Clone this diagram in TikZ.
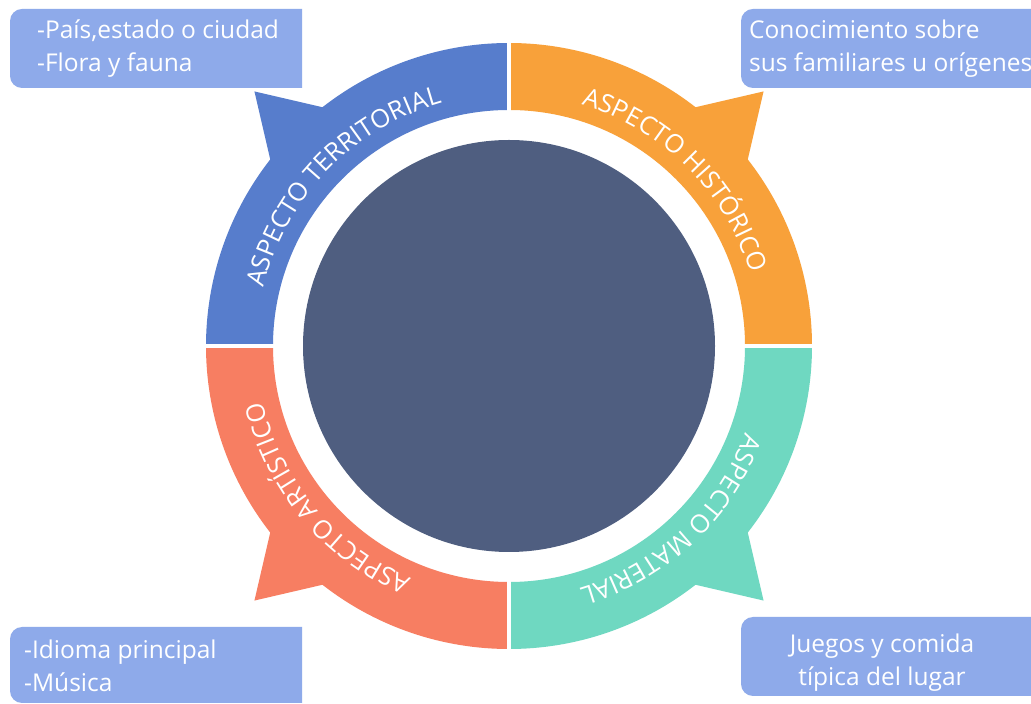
\documentclass[tikz,border=0pt]{standalone}
\usepackage{fontspec}
\setmainfont{Open Sans}
\usetikzlibrary{decorations.text}
\definecolor{segblue}{HTML}{577DCC}
\definecolor{segorange}{HTML}{F8A13A}
\definecolor{segteal}{HTML}{6FD8C1}
\definecolor{segsalmon}{HTML}{F77E62}
\definecolor{corecol}{HTML}{4F5E80}
\definecolor{boxcol}{HTML}{8EAAEA}
\newcommand\ringseg[2]{\fill[#2] (#1:303) arc[start angle=#1,end angle={#1+38},radius=303] -- ({#1+45}:360) -- ({#1+52}:303) arc[start angle={#1+52},end angle={#1+90},radius=303] -- ({#1+90}:236) arc[start angle={#1+90},end angle=#1,radius=236] -- cycle;}
\newcommand\ringlabel[2]{\path[decorate,decoration={text along path,text align=center,text={|\fontsize{25.5}{30}\selectfont\color{white}|#2}}] ({#1+60}:252) arc[start angle={#1+60},end angle={#1-60},radius=252];}
\begin{document}
\begin{tikzpicture}[x=1pt,y=1pt,
  calltext/.style={text=white,font=\fontsize{24.5}{33}\selectfont,inner sep=0pt},
  gapline/.style={white,line width=4.5pt}]
\useasboundingbox (0,0) rectangle (1031,704);
\clip (0,0) rectangle (1031,704);
\fill[white] (0,0) rectangle (1031,704);
% callout boxes
\fill[boxcol] (302,616) -- (302,695) [rounded corners=12pt] -- (10,695) -- (10,616) [sharp corners] -- cycle;
\fill[boxcol] (1040,616) -- (1040,695) [rounded corners=12pt] -- (741,695) -- (741,616) [sharp corners] -- cycle;
\fill[boxcol] (302,1) -- (302,77) [rounded corners=12pt] -- (10,77) -- (10,1) [sharp corners] -- cycle;
\fill[boxcol] (1040,8) -- (1040,87) [rounded corners=12pt] -- (741,87) -- (741,8) [sharp corners] -- cycle;
\node[calltext,anchor=base west,align=left] (tl) at (37,632) {-País,estado o ciudad\\-Flora y fauna};
\node[calltext,anchor=base west,align=left] (tr) at (749,632) {Conocimiento sobre\\sus familiares u orígenes};
\node[calltext,anchor=base west,align=left] (bl) at (24,12) {-Idioma principal\\-Música};
\node[calltext,anchor=base,align=center] (br) at (882,18) {Juegos y comida\\típica del lugar};
% ring
\coordinate (C) at (509,358);
\begin{scope}[shift={(C)}]
\ringseg{90}{segblue}
\ringseg{0}{segorange}
\ringseg{-90}{segteal}
\ringseg{180}{segsalmon}
\draw[gapline] (0,225) -- (0,315);
\draw[gapline] (0,-225) -- (0,-315);
\draw[gapline] (225,0) -- (315,0);
\draw[gapline] (-225,0) -- (-315,0);
\ringlabel{136}{ASPECTO TERRITORIAL}
\ringlabel{45}{ASPECTO HISTÓRICO}
\ringlabel{-47}{ASPECTO MATERIAL}
\ringlabel{220}{ASPECTO ARTÍSTICO}
\end{scope}
\node[circle,fill=corecol,minimum size=412pt,inner sep=0pt] (core) at (C) {};
\end{tikzpicture}
\end{document}
